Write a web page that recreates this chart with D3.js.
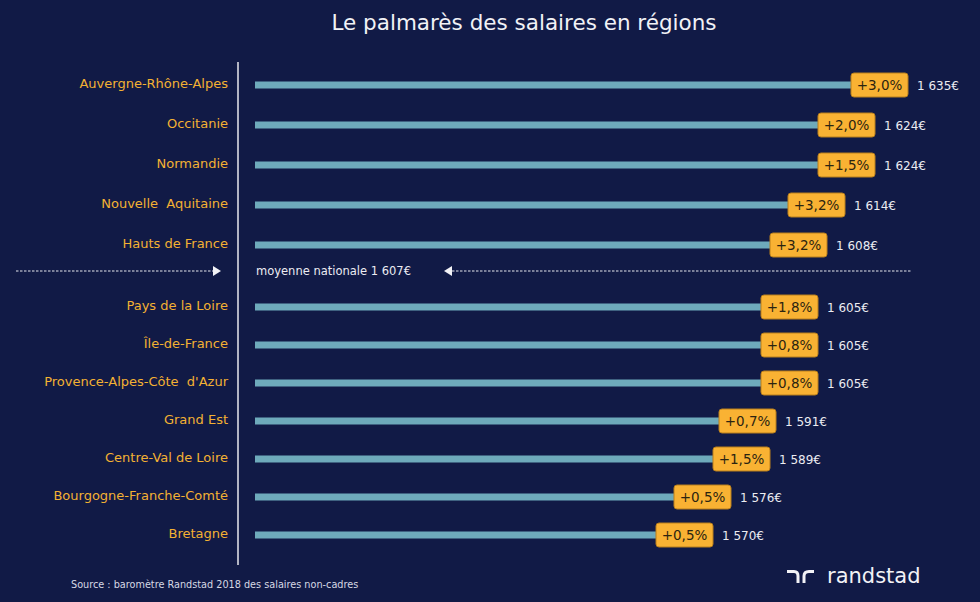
<!DOCTYPE html>
<html>
<head>
<meta charset="utf-8">
<script src="https://cdn.jsdelivr.net/npm/d3@7"></script>
<style>
  body { margin: 0; background: #111a46; }
  svg { display: block; font-family: "DejaVu Sans", Verdana, sans-serif; }
</style>
</head>
<body>
<script>
// regions, sorted as in the original ranking
var regions = ["Auvergne-Rhône-Alpes", "Occitanie", "Normandie", "Nouvelle  Aquitaine", "Hauts de France",
               "Pays de la Loire", "Île-de-France", "Provence-Alpes-Côte  d'Azur", "Grand Est",
               "Centre-Val de Loire", "Bourgogne-Franche-Comté", "Bretagne"];
var salaries = [1635, 1624, 1624, 1614, 1608, 1605, 1605, 1605, 1591, 1589, 1576, 1570];
var changes = ["+3,0%", "+2,0%", "+1,5%", "+3,2%", "+3,2%", "+1,8%", "+0,8%", "+0,8%", "+0,7%", "+1,5%", "+0,5%", "+0,5%"];
var nationalAvg = 1607;
var avgLabel = "moyenne nationale 1 607€";

var width = 980, height = 602;

var svg = d3.select("body").append("svg")
    .attr("width", width)
    .attr("height", height);

svg.append("rect").attr("width", width).attr("height", height).attr("fill", "#111a46");

// title
svg.append("text")
    .attr("x", 524).attr("y", 30)
    .attr("text-anchor", "middle")
    .attr("fill", "#f2f2f6")
    .style("font-size", "21.5px")
    .text("Le palmarès des salaires en régions");

// regions above the national average, and below it
var above = regions.filter(function(r, i){ return salaries[i] > nationalAvg; });
var below = regions.filter(function(r, i){ return salaries[i] <= nationalAvg; });
var yTop = d3.scalePoint().domain(above).range([85, 245]);
var yBottom = d3.scalePoint().domain(below).range([307, 535]);
function y(r){ return above.indexOf(r) >= 0 ? yTop(r) : yBottom(r); }
var avgY = 271;

// salary -> position of the badge's left edge
var x = d3.scaleLinear().domain([1570, 1635]).range([656, 851]);
var barStart = 255;

// vertical separator
svg.append("line")
    .attr("x1", 238).attr("x2", 238)
    .attr("y1", 62).attr("y2", 565)
    .attr("stroke", "#e8e8ee").attr("stroke-width", 1.5);

var rows = svg.selectAll(".row")
    .data(regions.map(function(r, i){ return {region: r, salary: salaries[i], change: changes[i]}; }))
    .enter().append("g")
    .attr("class", "row")
    .attr("transform", function(d){ return "translate(0," + y(d.region) + ")"; });

rows.append("text")
    .attr("x", 228).attr("y", 3)
    .attr("text-anchor", "end")
    .attr("fill", "#f3b133")
    .style("font-size", "13px")
    .style("white-space", "pre")
    .text(function(d){ return d.region; });

rows.append("rect")
    .attr("x", barStart)
    .attr("y", -3.5)
    .attr("width", function(d){ return x(d.salary) + 10 - barStart; })
    .attr("height", 7)
    .attr("fill", "#6eaabb");

rows.append("rect")
    .attr("x", function(d){ return x(d.salary); })
    .attr("y", -12)
    .attr("width", 57).attr("height", 24)
    .attr("rx", 3)
    .attr("fill", "#f9b233")
    .attr("stroke", "#b97f1c").attr("stroke-width", 1);

rows.append("text")
    .attr("x", function(d){ return x(d.salary) + 28.5; })
    .attr("y", 5)
    .attr("text-anchor", "middle")
    .attr("fill", "#2b2410")
    .style("font-size", "13.5px")
    .text(function(d){ return d.change; });

rows.append("text")
    .attr("x", function(d){ return x(d.salary) + 66; })
    .attr("y", 5)
    .attr("fill", "#ececf2")
    .style("font-size", "12px")
    .text(function(d){ return d.salary.toString().replace(/(\d)(\d{3})$/, "$1 $2") + "€"; });

// national average line
var avg = svg.append("g").attr("class", "avg");
avg.append("line")
    .attr("x1", 16).attr("x2", 213).attr("y1", avgY).attr("y2", avgY)
    .attr("stroke", "#e8e8ee").attr("stroke-width", 1.2).attr("stroke-dasharray", "2.5,1.5");
avg.append("path")
    .attr("d", "M213," + (avgY - 5) + "L221," + avgY + "L213," + (avgY + 5) + "Z")
    .attr("fill", "#f2f2f6");
avg.append("text")
    .attr("x", 256).attr("y", avgY + 4)
    .attr("fill", "#ececf2")
    .style("font-size", "11.5px")
    .text(avgLabel);
avg.append("path")
    .attr("d", "M452," + (avgY - 5) + "L444," + avgY + "L452," + (avgY + 5) + "Z")
    .attr("fill", "#f2f2f6");
avg.append("line")
    .attr("x1", 452).attr("x2", 911).attr("y1", avgY).attr("y2", avgY)
    .attr("stroke", "#e8e8ee").attr("stroke-width", 1.2).attr("stroke-dasharray", "2.5,1.5");

// source
svg.append("text")
    .attr("x", 71).attr("y", 588)
    .attr("fill", "#d6d8e4")
    .style("font-size", "9.7px")
    .text("Source : baromètre  Randstad 2018 des salaires  non-cadres");

// logo
var logo = svg.append("g").attr("transform", "translate(787,570)");
logo.append("path")
    .attr("d", "M0,1.5 H7 Q11,1.5 11,6 V13")
    .attr("fill", "none").attr("stroke", "#f2f2f6").attr("stroke-width", 3);
logo.append("path")
    .attr("d", "M17,13 V6 Q17,1.5 22,1.5 H27")
    .attr("fill", "none").attr("stroke", "#f2f2f6").attr("stroke-width", 3);
svg.append("text")
    .attr("x", 827).attr("y", 583)
    .attr("fill", "#f2f2f6")
    .style("font-size", "21px")
    .text("randstad");
</script>
</body>
</html>
